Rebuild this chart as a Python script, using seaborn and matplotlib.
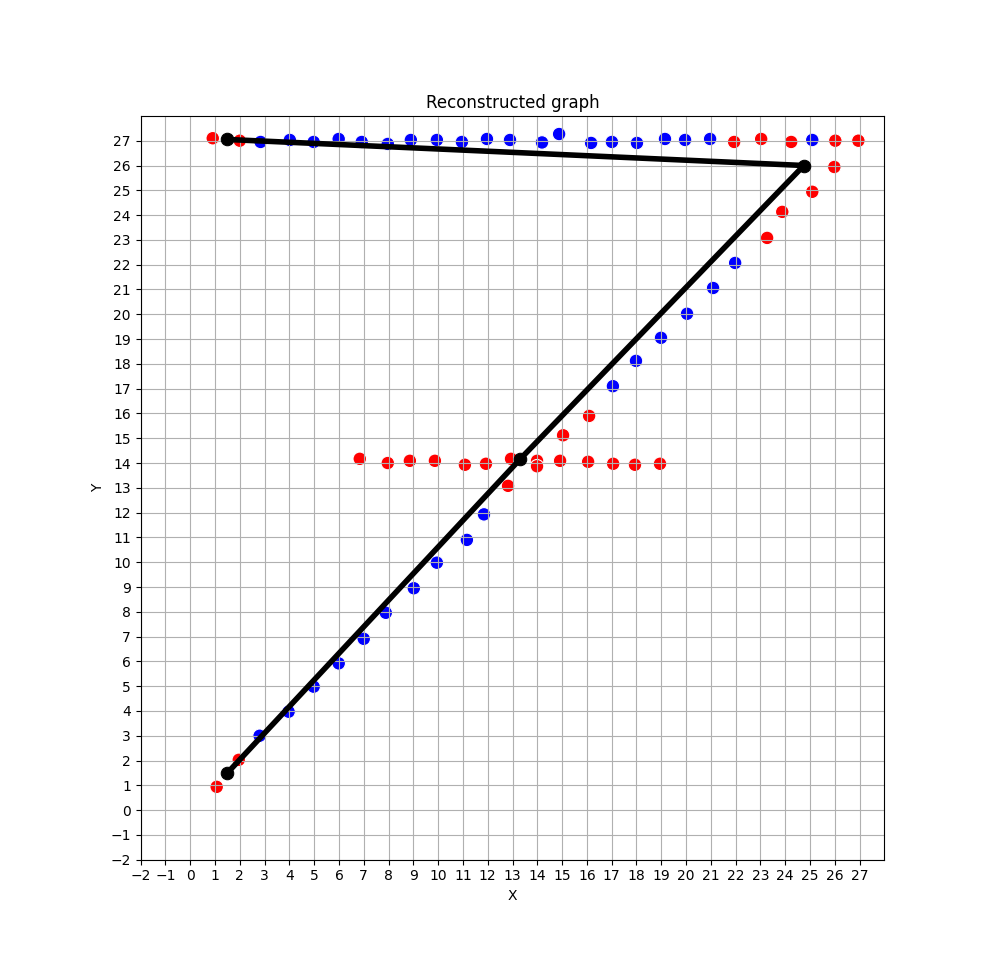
import matplotlib
matplotlib.use("Agg")
import matplotlib.pyplot as plt
import seaborn as sns
import pandas as pd
import numpy as np

# Blue points
blue_x = [2.84, 4.02, 4.98, 5.99, 6.92, 7.97, 8.9, 9.95, 10.96, 11.97, 12.9, 14.19, 14.88,
          16.17, 17.01, 18.02, 19.15, 19.96, 20.97, 25.09,
          2.8, 3.97, 4.98, 5.99, 7.0, 7.89, 9.02, 9.95, 11.16, 11.85,
          17.05, 17.98, 18.99, 20.04, 21.09, 21.98]
blue_y = [26.95, 27.03, 26.95, 27.07, 26.95, 26.87, 27.03, 27.03, 26.95, 27.07, 27.03, 26.93, 27.27,
          26.91, 26.95, 26.91, 27.07, 27.03, 27.07, 27.03,
          3.0, 3.97, 4.98, 5.92, 6.91, 7.96, 8.95, 9.98, 10.9, 11.93,
          17.1, 18.12, 19.05, 20.02, 21.06, 22.07]

# Red points
red_x = [0.91, 2.0, 21.94, 23.03, 24.24, 26.02, 26.95,
         25.98, 25.09, 23.88, 23.27, 16.09, 15.04,
         6.84, 7.97, 8.86, 9.87, 11.08, 11.93, 12.94, 13.99, 13.99, 14.92, 16.05, 17.06, 17.94, 18.95,
         12.82, 1.07, 1.96]
red_y = [27.1, 27.0, 26.95, 27.07, 26.95, 27.0, 27.0,
         25.94, 24.94, 24.13, 23.08, 15.9, 15.12,
         14.17, 14.0, 14.09, 14.09, 13.93, 13.97, 14.17, 14.09, 13.87, 14.09, 14.05, 13.97, 13.93, 13.97,
         13.08, 0.94, 2.03]

# Reconstructed path (black)
path_x = [1.5, 13.3, 24.75, 1.5]
path_y = [1.5, 14.15, 26.0, 27.05]

points = pd.DataFrame({
    "x": blue_x + red_x,
    "y": blue_y + red_y,
    "c": ["blue"] * len(blue_x) + ["red"] * len(red_x),
})
path = pd.DataFrame({"x": path_x, "y": path_y})

fig, ax = plt.subplots(figsize=(10, 9.66), dpi=100)
sns.scatterplot(data=points, x="x", y="y", hue="c", palette={"blue": "blue", "red": "red"},
                s=95, edgecolor="white", linewidth=0.8, legend=False, ax=ax, zorder=1)
sns.lineplot(data=path, x="x", y="y", sort=False, estimator=None, color="black",
             linewidth=4.0, marker="o", markersize=9, markeredgecolor="black", ax=ax, zorder=2)

ax.set_xlim(-2, 28)
ax.set_ylim(-2, 28)
ax.set_xticks(range(-2, 28))
ax.set_yticks(range(-2, 28))
ax.grid(True)
ax.set_aspect("equal", adjustable="box")
ax.set_title("Reconstructed graph")
ax.set_xlabel("X")
ax.set_ylabel("Y")
fig.savefig("out.png", dpi=100)
